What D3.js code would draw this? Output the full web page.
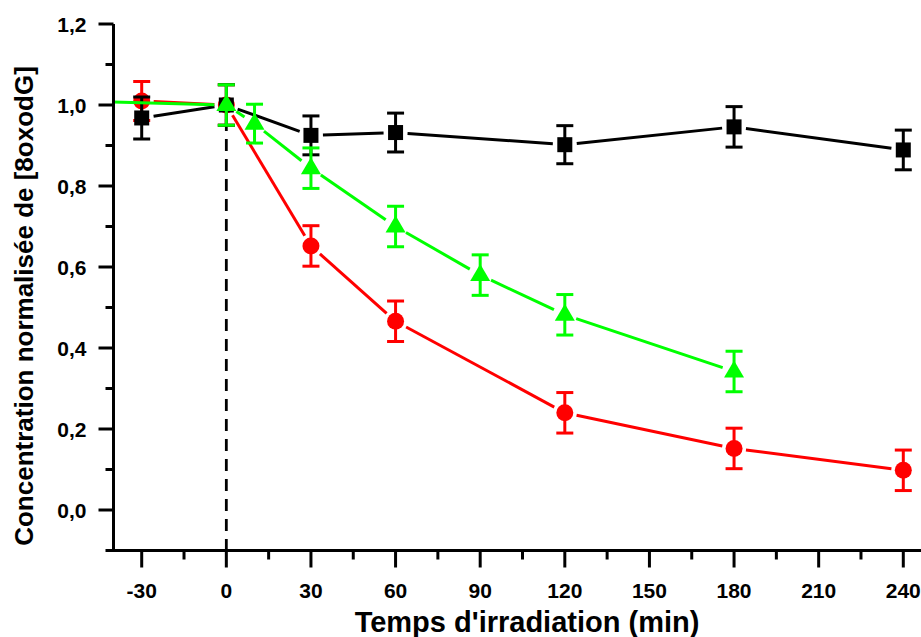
<!DOCTYPE html>
<html><head><meta charset="utf-8">
<script src="https://cdn.jsdelivr.net/npm/d3@7"></script>
<style>
html,body{margin:0;padding:0;background:#fff;}
svg{display:block;}
text{font-family:"Liberation Sans",Arial,sans-serif;font-weight:bold;fill:#000;}
</style></head>
<body>
<svg id="chart" width="921" height="637"></svg>
<script>
// ---- data ----
const blackTime = [-30, 0, 30, 60, 120, 180, 240];
const blackValue = [0.968, 1.0, 0.925, 0.932, 0.902, 0.946, 0.889];
const blackError = [0.052, 0.05, 0.048, 0.048, 0.047, 0.05, 0.049];

const redTime = [-30, 0, 30, 60, 120, 180, 240];
const redValue = [1.01, 1.0, 0.652, 0.466, 0.240, 0.152, 0.098];
const redError = [0.048, 0.05, 0.05, 0.05, 0.05, 0.05, 0.05];

const greenTime = [-60, 0, 10, 30, 60, 90, 120, 180];
const greenValue = [1.011, 1.0, 0.954, 0.844, 0.700, 0.580, 0.482, 0.342];
const greenError = [null, 0.05, 0.048, 0.05, 0.05, 0.05, 0.05, 0.05];

const xTicks = [-30, 0, 30, 60, 90, 120, 150, 180, 210, 240];
const xMinorTicks = [-15, 15, 45, 75, 105, 135, 165, 195, 225];
const yTicks = [0.0, 0.2, 0.4, 0.6, 0.8, 1.0, 1.2];
const yMinorTicks = [-0.1, 0.1, 0.3, 0.5, 0.7, 0.9, 1.1];

const xTitle = "Temps d'irradiation (min)";
const yTitle = "Concentration normalisée de [8oxodG]";

// ---- layout ----
const svg = d3.select("#chart");
const x = d3.scaleLinear().domain([-40, 250]).range([113.5, 931.5]);
const y = d3.scaleLinear().domain([-0.1, 1.2]).range([550.5, 24]);
const fmt = v => d3.format(".1f")(v).replace(".", ",");

const xLeft = x(-40), yBottom = y(-0.1), yTop = y(1.2);
const SW = 3;

// clip
svg.append("defs").append("clipPath").attr("id", "clip")
  .append("rect").attr("x", xLeft).attr("y", 0).attr("width", 921 - xLeft).attr("height", yBottom);

const plot = svg.append("g").attr("clip-path", "url(#clip)");

// dashed line at t=0
plot.append("line")
  .attr("x1", x(0)).attr("x2", x(0))
  .attr("y1", y(1.0) + 14).attr("y2", yBottom)
  .attr("stroke", "#000").attr("stroke-width", 2.8)
  .attr("stroke-dasharray", "12,8");

function makeSeries(times, values, errors) {
  return times.map((t, i) => ({t, v: values[i], e: errors[i]}));
}

function drawSeries(data, color, shape) {
  const g = plot.append("g");
  const gap = 12;
  for (let i = 0; i < data.length - 1; i++) {
    const a = data[i], b = data[i + 1];
    const x1 = x(a.t), y1 = y(a.v), x2 = x(b.t), y2 = y(b.v);
    const len = Math.hypot(x2 - x1, y2 - y1);
    const ux = (x2 - x1) / len, uy = (y2 - y1) / len;
    const g1 = (a.e === null) ? 0 : gap;
    const g2 = (b.e === null) ? 0 : gap;
    g.append("line")
      .attr("x1", x1 + ux * g1).attr("y1", y1 + uy * g1)
      .attr("x2", x2 - ux * g2).attr("y2", y2 - uy * g2)
      .attr("stroke", color).attr("stroke-width", SW);
  }
  const pts = data.filter(d => d.e !== null);
  pts.forEach(d => {
    const cx = x(d.t), cy = y(d.v);
    if (shape === "square") {
      g.append("rect").attr("x", cx - 7.5).attr("y", cy - 7.5)
        .attr("width", 15).attr("height", 15).attr("fill", color);
    } else if (shape === "circle") {
      g.append("circle").attr("cx", cx).attr("cy", cy).attr("r", 8.5).attr("fill", color);
    } else {
      const s = 10;
      g.append("path")
        .attr("d", `M${cx},${cy - 11}L${cx + s},${cy + 6}L${cx - s},${cy + 6}Z`)
        .attr("fill", color);
    }
  });
  pts.forEach(d => {
    const cx = x(d.t);
    const yt = y(d.v + d.e), yb = y(d.v - d.e);
    g.append("line").attr("x1", cx).attr("x2", cx).attr("y1", yt).attr("y2", yb)
      .attr("stroke", color).attr("stroke-width", SW);
    [yt, yb].forEach(yy => {
      g.append("line").attr("x1", cx - 8.5).attr("x2", cx + 8.5).attr("y1", yy).attr("y2", yy)
        .attr("stroke", color).attr("stroke-width", SW);
    });
  });
}

drawSeries(makeSeries(redTime, redValue, redError), "#ff0000", "circle");
drawSeries(makeSeries(blackTime, blackValue, blackError), "#000000", "square");
drawSeries(makeSeries(greenTime, greenValue, greenError), "#00ff00", "triangle");

// ---- axes ----
const axes = svg.append("g");
axes.append("line").attr("x1", xLeft).attr("x2", xLeft).attr("y1", yTop).attr("y2", yBottom + 1.5)
  .attr("stroke", "#000").attr("stroke-width", 3);
axes.append("line").attr("x1", xLeft - 1.5).attr("x2", 921).attr("y1", yBottom).attr("y2", yBottom)
  .attr("stroke", "#000").attr("stroke-width", 3);

xTicks.forEach(t => {
  axes.append("line").attr("x1", x(t)).attr("x2", x(t)).attr("y1", yBottom).attr("y2", yBottom + 17)
    .attr("stroke", "#000").attr("stroke-width", 3);
  axes.append("text").attr("x", x(t)).attr("y", yBottom + 47)
    .attr("text-anchor", "middle").attr("font-size", 21).text(t);
});
xMinorTicks.forEach(t => {
  axes.append("line").attr("x1", x(t)).attr("x2", x(t)).attr("y1", yBottom).attr("y2", yBottom + 9)
    .attr("stroke", "#000").attr("stroke-width", 3);
});
yTicks.forEach(v => {
  axes.append("line").attr("x1", xLeft - 15).attr("x2", xLeft).attr("y1", y(v)).attr("y2", y(v))
    .attr("stroke", "#000").attr("stroke-width", 3);
  axes.append("text").attr("x", xLeft - 27).attr("y", y(v)).attr("dy", "0.36em")
    .attr("text-anchor", "end").attr("font-size", 21).text(fmt(v));
});
yMinorTicks.forEach(v => {
  axes.append("line").attr("x1", xLeft - 8).attr("x2", xLeft).attr("y1", y(v)).attr("y2", y(v))
    .attr("stroke", "#000").attr("stroke-width", 3);
});

svg.append("text").attr("x", 527).attr("y", 632).attr("text-anchor", "middle")
  .attr("font-size", 29).text(xTitle);
svg.append("text").attr("transform", "translate(33,306) rotate(-90)")
  .attr("text-anchor", "middle").attr("font-size", 26).text(yTitle);
</script>
</body></html>
